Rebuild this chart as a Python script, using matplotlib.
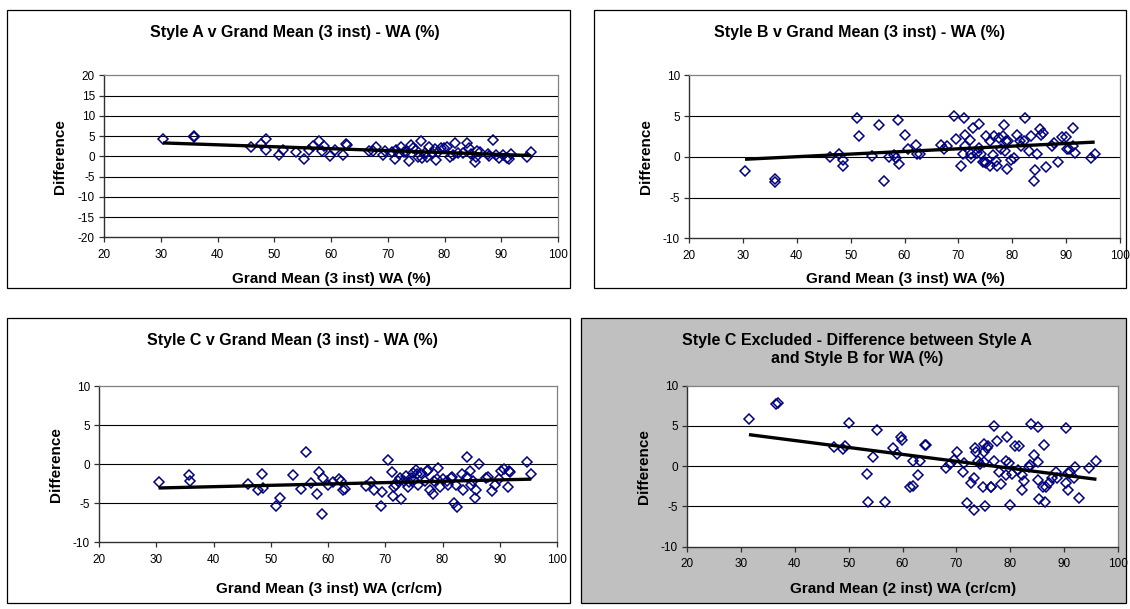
import numpy as np
import matplotlib
matplotlib.use("Agg")
import matplotlib.pyplot as plt
from matplotlib.patches import Rectangle

plt.rcParams['font.family'] = ['Liberation Sans', 'DejaVu Sans']
plt.rcParams['axes.unicode_minus'] = False

# ---------------- data ----------------
titles = ["Style A v Grand Mean (3 inst) - WA (%)",
          "Style B v Grand Mean (3 inst) - WA (%)",
          "Style C v Grand Mean (3 inst) - WA (%)",
          "Style C Excluded - Difference between Style A\nand Style B for WA (%)"]
xlabels = ["Grand Mean (3 inst) WA (%)",
           "Grand Mean (3 inst) WA (%)",
           "Grand Mean (3 inst) WA (cr/cm)",
           "Grand Mean (2 inst) WA (cr/cm)"]
ylabel = "Difference"

a_x = [30.4, 35.8, 35.8, 45.9, 47.7, 48.5, 48.5, 50.9, 51.5, 53.9, 55.2, 56.2, 56.9, 57.9,
       58.4, 58.7, 59.9, 60.7, 62.1, 62.6, 62.9, 66.7, 67.4, 68.0, 69.2, 69.5, 70.8, 71.2,
       71.4, 71.9, 72.3, 72.8, 73.3, 73.8, 74.1, 74.4, 74.9, 75.4, 75.8, 76.0, 76.5, 77.0,
       77.3, 77.8, 78.3, 78.5, 78.9, 79.4, 79.9, 80.5, 81.0, 81.5, 81.9, 82.4, 83.2, 84.0,
       84.3, 84.7, 85.3, 85.5, 85.8, 86.3, 87.6, 87.9, 88.5, 89.0, 89.6, 90.3, 91.1, 91.4,
       91.7, 94.6, 95.3]
a_y = [4.3, 5.0, 4.7, 2.4, 3.0, 4.2, 1.6, 0.4, 1.6, 1.1, -0.7, 1.5, 2.5, 3.7,
       1.3, 2.6, 0.1, 1.6, 0.3, 3.0, 2.8, 1.4, 1.3, 2.3, 0.3, 1.4, 1.0, -0.7,
       1.6, 0.6, 2.4, 1.1, 1.0, -1.1, 2.8, 2.1, 1.6, -0.1, 3.9, -0.5, 0.9, -0.1,
       2.2, 0.7, 1.7, -1.0, 1.1, 2.1, 2.0, 2.4, -0.2, 0.3, 3.2, 0.9, 0.7, 3.2,
       2.0, 0.6, -1.3, -0.1, 1.4, 1.1, 0.6, 0.1, 4.0, 0.3, -0.5, 0.3, -0.3, -0.7,
       0.6, -0.2, 1.0]

b_x = [30.4, 36.0, 36.0, 46.2, 47.8, 48.5, 48.5, 51.1, 51.5, 53.9, 55.3, 56.2, 57.1, 58.1,
       58.5, 58.8, 59.0, 60.0, 60.7, 62.1, 62.4, 62.8, 66.7, 67.4, 67.9, 69.2, 69.6, 70.4,
       71.1, 71.2, 71.3, 70.9, 72.1, 72.4, 72.4, 72.7, 73.4, 73.8, 73.8, 74.2, 74.5, 75.2,
       75.1, 75.8, 75.9, 76.4, 76.7, 77.2, 77.6, 77.9, 78.2, 78.5, 78.7, 79.1, 79.3, 79.8,
       80.4, 80.8, 81.4, 81.7, 82.1, 82.4, 83.1, 83.5, 84.1, 84.2, 84.6, 85.2, 85.4, 85.7,
       86.2, 87.4, 87.8, 88.4, 89.2, 89.9, 90.2, 90.6, 91.2, 91.3, 91.7, 94.7, 95.3,
       74.9, 78.9, 77.0]
b_y = [-1.8, -2.7, -3.1, 0.0, 0.4, -0.4, -1.1, 4.8, 2.6, 0.1, 3.9, -3.0, 0.0, 0.2,
       -0.2, 4.5, -0.9, 2.7, 0.9, 1.5, 0.4, 0.3, 1.5, 0.9, 1.3, 5.0, 2.2, -1.1,
       4.8, 1.3, 2.7, 0.4, 2.0, 0.4, -0.2, 3.5, 0.5, 4.0, 1.1, 0.3, -0.6, 2.5,
       -0.7, -1.1, 1.9, 0.2, 2.6, -1.1, 2.3, 0.9, 2.6, 3.9, 0.7, -1.5, 1.9, -0.4,
       -0.1, 2.7, 1.9, 1.3, 1.9, 4.8, 0.7, 2.6, -3.0, -1.6, 0.4, 3.4, 2.7, 2.9,
       -1.3, 1.3, 1.7, -0.6, 2.4, 2.4, 0.9, 0.9, 3.5, 1.3, 0.5, -0.1, 0.4,
       -0.6, 1.9, -0.5]

c_x = [30.4, 35.8, 35.9, 46.0, 47.7, 48.4, 48.6, 51.0, 51.6, 53.9, 55.2, 56.2, 57.0, 58.1,
       58.4, 58.9, 59.1, 60.0, 60.8, 62.0, 62.3, 62.6, 62.9, 66.7, 67.5, 68.0, 69.3, 69.5,
       70.5, 71.1, 71.3, 71.5, 71.8, 72.3, 72.6, 72.8, 73.3, 73.6, 73.9, 74.2, 74.5, 74.8,
       75.1, 75.4, 75.6, 75.8, 76.3, 77.0, 77.3, 77.5, 77.8, 78.3, 78.6, 79.0, 79.3, 79.6,
       80.1, 80.7, 81.0, 81.4, 81.6, 82.0, 82.4, 82.6, 83.4, 83.6, 84.2, 84.3, 84.8, 85.0,
       85.4, 85.6, 85.8, 86.4, 87.6, 87.9, 88.6, 89.2, 89.8, 90.3, 90.8, 91.4, 91.6, 91.8,
       94.8, 95.5]
c_y = [-2.3, -1.35, -2.2, -2.5, -3.3, -1.3, -3.0, -5.3, -4.3, -1.4, -3.2, 1.6, -2.4, -3.8,
       -1.05, -6.4, -1.7, -2.7, -2.3, -1.9, -2.15, -3.25, -3.2, -2.8, -2.3, -3.25, -5.4, -3.5,
       0.5, -1.0, -4.1, -2.9, -2.6, -2.2, -1.7, -4.5, -2.2, -1.5, -2.9, -2.3, -1.8, -1.1,
       -2.0, -0.7, -1.2, -2.7, -1.1, -2.2, -0.9, -0.7, -3.3, -3.8, -2.2, -1.9, -0.5, -2.9,
       -1.9, -2.2, -2.6, -1.8, -1.6, -5.0, -2.7, -5.5, -1.2, -3.3, -1.6, 0.9, -0.9, -2.6,
       -2.2, -4.3, -3.3, 0.0, -1.7, -1.6, -3.4, -2.7, -1.9, -0.9, -0.6, -2.9, -0.9, -1.05,
       0.3, -1.3]

ab_x = [31.5, 36.5, 36.9, 47.3, 49.0, 49.4, 50.0, 53.5, 53.6, 54.5, 55.3, 56.8, 58.3, 58.9,
        59.7, 59.9, 61.3, 62.0, 62.0, 62.9, 63.3, 64.2, 64.4, 68.1, 68.8, 69.6, 70.1, 71.2,
        71.4, 71.9, 72.7, 73.2, 73.3, 73.4, 73.7, 74.1, 74.4, 74.9, 75.1, 75.1, 75.2, 75.4,
        75.6, 75.8, 76.4, 76.5, 77.0, 77.0, 77.6, 78.0, 78.3, 79.3, 79.4, 79.7, 79.3, 80.0,
        80.3, 80.8, 81.4, 81.7, 82.2, 82.2, 82.5, 83.4, 83.7, 83.9, 84.4, 85.2, 85.2, 85.2,
        85.3, 86.0, 86.3, 86.5, 86.6, 87.2, 87.7, 88.4, 88.7, 90.3, 90.4, 90.7, 90.7, 91.1,
        91.8, 92.0, 92.7, 94.6, 96.0]
ab_y = [5.9, 7.7, 7.8, 2.4, 2.1, 2.5, 5.4, -1.0, -4.5, 1.1, 4.5, -4.5, 2.2, 1.5,
        3.6, 3.3, -2.6, -2.5, 0.7, -1.1, 0.7, 2.6, 2.6, -0.2, 0.3, 0.8, 1.8, -0.7,
        0.4, -4.6, -2.1, -5.5, -1.5, 2.2, 1.8, 0.7, 0.3, -2.6, 2.8, 0.5, 1.7, -5.0,
        2.3, 2.5, -2.6, -2.6, 5.0, 0.7, 3.1, -0.7, -2.2, 0.7, 3.6, 0.4, -1.1, -4.8,
        -1.0, 2.5, -0.5, 2.5, -1.1, -3.0, -1.9, -0.1, 0.1, 5.3, 1.4, 4.9, -1.7, 0.5,
        -4.1, -2.6, 2.6, -4.4, -2.6, -2.1, -1.5, -0.7, -1.5, 4.7, -2.1, -3.0, -0.9, -0.7,
        -1.5, -0.1, -4.0, -0.2, 0.6]

# linear trend lines (slope, intercept)
trend_slope = [-0.048, 0.0324, 0.0174, -0.0861]
trend_intercept = [4.76, -1.285, -3.565, 6.63]

xs = [a_x, b_x, c_x, ab_x]
ys = [a_y, b_y, c_y, ab_y]
ylims = [(-20, 20), (-10, 10), (-10, 10), (-10, 10)]

# ---------------- layout (pixels) ----------------
W, H = 1130, 609
fig = plt.figure(figsize=(W / 100, H / 100), dpi=100)
fig.patch.set_facecolor("white")

def fx(p):
    return p / W

def fy(p):
    return 1 - p / H

# frames: (left, top, right, bottom, facecolor)
frames = [(7, 10, 570, 288, "white"), (594, 10, 1126, 288, "white"),
          (7, 318, 570, 603, "white"), (581, 318, 1126, 603, "#c0c0c0")]
# plot areas: (left, top, right, bottom)
areas = [(104, 75.3, 558, 237.3), (689, 75.3, 1120, 238.3),
         (99, 386.3, 557, 542.3), (687, 385.7, 1118, 546.6)]
title_pos = [(295, 32), (860, 32), (292, 341), (857, 350)]
xlabel_pos = [(331, 279), (905, 279), (329, 589), (903, 589)]
ylabel_x = [60, 646, 56, 644]

for i in range(4):
    l, t, r, b, fc = frames[i]
    rect = Rectangle((fx(l), fy(b)), fx(r - l), (b - t) / H,
                     transform=fig.transFigure, facecolor=fc,
                     edgecolor="black", linewidth=0.9, zorder=-10)
    fig.add_artist(rect)
    al, at, ar, ab = areas[i]
    ax = fig.add_axes([fx(al), fy(ab), fx(ar - al), (ab - at) / H])
    ax.set_zorder(5)
    ax.set_facecolor("white")
    ax.set_xlim(20, 100)
    ax.set_ylim(*ylims[i])
    ax.set_xticks(np.arange(20, 101, 10))
    ax.set_yticks(np.arange(ylims[i][0], ylims[i][1] + 1, 5))
    for yv in np.arange(ylims[i][0] + 5, ylims[i][1], 5):
        ax.axhline(yv, color="black", linewidth=0.8, zorder=1)
    x = np.array(xs[i])
    y = np.array(ys[i])
    ax.plot(x, y, linestyle="none", marker="D", markersize=4.8,
            markerfacecolor="none", markeredgecolor="#000080",
            markeredgewidth=1.1, zorder=3)
    xt = np.array([x.min(), x.max()])
    ax.plot(xt, trend_slope[i] * xt + trend_intercept[i], color="black",
            linewidth=2.4, zorder=4, solid_capstyle="butt")
    for s in ["top", "right"]:
        ax.spines[s].set_color("#808080")
        ax.spines[s].set_linewidth(0.9)
    for s in ["left", "bottom"]:
        ax.spines[s].set_color("#303030")
        ax.spines[s].set_linewidth(1.0)
    ax.tick_params(axis="both", direction="out", length=3.5, width=0.9,
                   color="#303030", labelsize=8.5, labelcolor="black")
    ax.tick_params(axis="x", pad=5)
    ax.tick_params(axis="y", pad=3)

    tx, ty = title_pos[i]
    fig.text(fx(tx), fy(ty), titles[i], ha="center", va="center",
             fontsize=11.5, fontweight="bold", linespacing=1.25, zorder=10)
    lx, ly = xlabel_pos[i]
    fig.text(fx(lx), fy(ly), xlabels[i], ha="center", va="center",
             fontsize=11, fontweight="bold", zorder=10)
    fig.text(fx(ylabel_x[i]), fy((at + ab) / 2), ylabel, ha="center", va="center",
             rotation=90, fontsize=11, fontweight="bold", zorder=10)

fig.savefig("out.png", dpi=100)
